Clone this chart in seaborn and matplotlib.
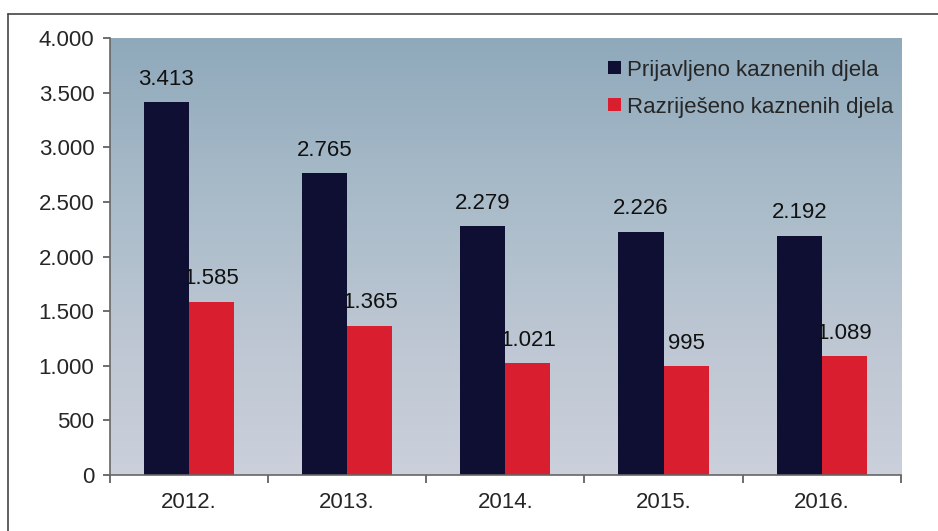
import matplotlib
matplotlib.use("Agg")
import matplotlib.pyplot as plt
import seaborn as sns
import pandas as pd
import numpy as np
from matplotlib.colors import LinearSegmentedColormap
from matplotlib.lines import Line2D

# Podaci
godine = ["2012.", "2013.", "2014.", "2015.", "2016."]
prijavljeno = [3413, 2765, 2279, 2226, 2192]
razrijeseno = [1585, 1365, 1021, 995, 1089]
serije = ["Prijavljeno kaznenih djela", "Razriješeno kaznenih djela"]
boje = ["#0e0f33", "#d81e2f"]
y_ticks = [0, 500, 1000, 1500, 2000, 2500, 3000, 3500, 4000]

df = pd.DataFrame({
    "godina": godine * 2,
    "broj": prijavljeno + razrijeseno,
    "serija": [serije[0]] * len(godine) + [serije[1]] * len(godine),
})

sns.set_style("white")
plt.rcParams["font.family"] = ["Liberation Sans", "DejaVu Sans"]


def fmt(v):
    # tocka kao separator tisucica
    return f"{int(v):,}".replace(",", ".")


fig = plt.figure(figsize=(9.38, 5.31), dpi=100)
ax = fig.add_axes([0.117, 0.1055, 0.8435, 0.8225])

# Gradijent pozadine
cmap = LinearSegmentedColormap.from_list("bg", ["#8fa9bb", "#a7bac8", "#bcc6d2", "#cbd0db"])
grad = np.linspace(0, 1, 256).reshape(-1, 1)
ax.imshow(grad, aspect="auto", cmap=cmap, extent=[0, 1, 0, 1],
          transform=ax.transAxes, zorder=0, origin="upper")

sns.barplot(data=df, x="godina", y="broj", hue="serija", palette=boje,
            width=0.57, gap=0, ax=ax, zorder=2, saturation=1,
            edgecolor="none", linewidth=0)

for cont in ax.containers:
    ax.bar_label(cont, labels=[fmt(v) for v in cont.datavalues],
                 padding=9, fontsize=16, color="#111111")

ax.set_xlim(-0.5, len(godine) - 0.5)
ax.set_ylim(0, 4000)
ax.set_yticks(y_ticks)
ax.set_yticklabels([fmt(v) for v in y_ticks], fontsize=16)
ax.tick_params(axis="x", which="major", length=0, pad=12, labelsize=16)
ax.set_xticks(np.arange(-0.5, len(godine)), minor=True)
ax.tick_params(axis="x", which="minor", bottom=True, length=6, width=1.2,
               direction="out", color="#555555")
ax.tick_params(axis="y", length=5, width=1.2, direction="out", color="#555555",
               pad=6, left=True)
ax.set_xlabel("")
ax.set_ylabel("")

for s in ["top", "right"]:
    ax.spines[s].set_visible(False)
for s in ["left", "bottom"]:
    ax.spines[s].set_color("#666666")
    ax.spines[s].set_linewidth(1.2)
    ax.spines[s].set_zorder(3)

leg = ax.legend(loc="upper right", bbox_to_anchor=(1.016, 0.997), frameon=False,
                fontsize=16, handlelength=0.55, handleheight=0.55,
                handletextpad=0.3, labelspacing=0.72)

# Okvir oko slike
fig.add_artist(Line2D([0.0085, 0.0085], [0, 0.974], color="#444444", lw=1.2,
                      transform=fig.transFigure))
fig.add_artist(Line2D([0.0085, 1], [0.974, 0.974], color="#444444", lw=1.2,
                      transform=fig.transFigure))

fig.savefig("out.png", dpi=100)
